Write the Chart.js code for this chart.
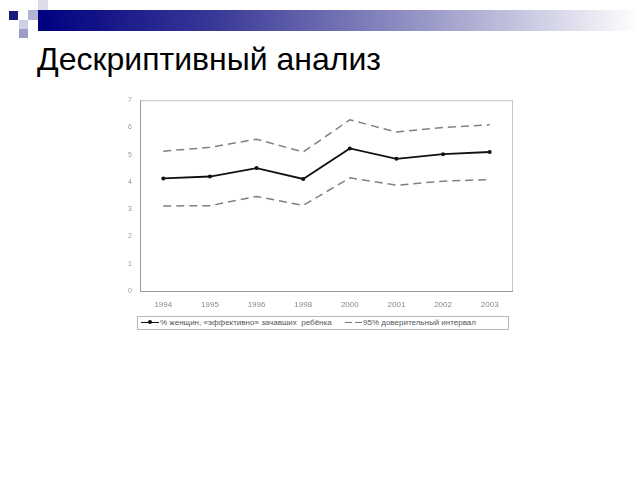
<!DOCTYPE html>
<html>
<head>
<meta charset="utf-8">
<script src="https://cdn.jsdelivr.net/npm/chart.js@4"></script>
<style>
  body { margin: 0; background: #fff; width: 640px; height: 480px; position: relative; overflow: hidden; font-family: "Liberation Sans", Arial, sans-serif; }
  .sq { position: absolute; }
  #bar { position: absolute; left: 38px; top: 10px; width: 602px; height: 21px;
         background: linear-gradient(to right, #000080 0%, #3a3a98 30%, #9a9ac8 65%, #ffffff 100%); }
  #title { position: absolute; left: 37px; top: 41px; font-size: 32px; color: #000; white-space: nowrap; }
  #chartWrap { position: absolute; left: 100px; top: 88px; width: 420px; height: 227px; }
  #legend { position: absolute; left: 137px; top: 316px; width: 370px; height: 12px;
            border: 1px solid #b8b8b8; font-size: 8px; color: #555; line-height: 12px; white-space: nowrap; }
  .lg { position: absolute; top: 5px; }
</style>
</head>
<body>
<div id="bar"></div>
<div class="sq" style="left:9px;top:11px;width:9px;height:9px;background:#1a1a78"></div>
<div class="sq" style="left:38px;top:0px;width:10px;height:10px;background:#dcdcec"></div>
<div class="sq" style="left:28px;top:10px;width:10px;height:10px;background:#b4b4d4"></div>
<div class="sq" style="left:19px;top:20px;width:9px;height:9px;background:#cfcfe4"></div>
<div class="sq" style="left:19px;top:29px;width:9px;height:9px;background:#9c9cc8"></div>
<div id="title">Дескриптивный анализ</div>

<div id="chartWrap"><canvas id="chart"></canvas></div>

<div id="legend">
  <div class="lg" style="left:3px;width:18px;border-top:1.5px solid #111"></div>
  <div class="lg" style="left:10px;top:3px;width:4px;height:4px;border-radius:50%;background:#111"></div>
  <span style="position:absolute;left:22px">% женщин, «эффективно» зачавших&nbsp; ребёнка</span>
  <div class="lg" style="left:207px;width:7px;border-top:1.5px solid #777"></div>
  <div class="lg" style="left:217px;width:7px;border-top:1.5px solid #777"></div>
  <span style="position:absolute;left:225px">95% доверительный интервал</span>
</div>

<script>
// Годы раундов обследования
const years = ["1994", "1995", "1996", "1998", "2000", "2001", "2002", "2003"];
// Доля женщин (%), оценка и границы 95% интервала
const meanValues = [4.13, 4.2, 4.51, 4.11, 5.23, 4.85, 5.02, 5.1];
const upperValues = [5.13, 5.27, 5.57, 5.1, 6.28, 5.83, 6.0, 6.1];
const lowerValues = [3.12, 3.13, 3.47, 3.14, 4.15, 3.88, 4.03, 4.09];
const yTicks = [0, 1, 2, 3, 4, 5, 6, 7];

// Рамка вокруг области графика
const frame = {
  id: "frame",
  afterDraw(chart) {
    const a = chart.chartArea;
    const ctx = chart.ctx;
    ctx.save();
    ctx.strokeStyle = "#c4c4c4";
    ctx.lineWidth = 1;
    ctx.strokeRect(a.left + 0.5, a.top + 0.5, a.right - a.left - 1, a.bottom - a.top);
    ctx.strokeStyle = "#9a9a9a";
    ctx.beginPath();
    ctx.moveTo(a.left + 0.5, a.top);
    ctx.lineTo(a.left + 0.5, a.bottom + 0.5);
    ctx.lineTo(a.right, a.bottom + 0.5);
    ctx.stroke();
    ctx.restore();
  }
};

const dashed = {
  borderColor: "#808080",
  borderWidth: 1.5,
  borderDash: [8, 5],
  pointRadius: 0,
  tension: 0,
  fill: false
};

new Chart(document.getElementById("chart"), {
  type: "line",
  data: {
    labels: years,
    datasets: [
      {
        label: "% женщин, «эффективно» зачавших ребёнка",
        data: meanValues,
        borderColor: "#111",
        backgroundColor: "#111",
        borderWidth: 1.8,
        pointRadius: 2,
        pointBackgroundColor: "#111",
        pointBorderWidth: 0,
        tension: 0,
        fill: false
      },
      Object.assign({ label: "95% доверительный интервал", data: upperValues }, dashed),
      Object.assign({ label: "95% нижняя", data: lowerValues }, dashed)
    ]
  },
  options: {
    responsive: true,
    maintainAspectRatio: false,
    animation: false,
    layout: { padding: { left: 10, right: 7, top: 4, bottom: 4 } },
    plugins: {
      legend: { display: false },
      tooltip: { enabled: false }
    },
    scales: {
      x: {
        offset: true,
        grid: { display: false, drawTicks: false },
        border: { display: false },
        ticks: { color: "#888", font: { size: 8, family: "Liberation Sans" }, padding: 9, maxRotation: 0 },
        afterFit(scale) { scale.height = 20; }
      },
      y: {
        min: 0,
        max: 7,
        afterBuildTicks(scale) { scale.ticks = yTicks.map(v => ({ value: v })); },
        grid: { display: false, drawTicks: false },
        border: { display: false },
        ticks: { color: "#999", font: { size: 7, family: "Liberation Sans" }, padding: 8 },
        afterFit(scale) { scale.width = 30; }
      }
    }
  },
  plugins: [frame]
});
</script>
</body>
</html>
